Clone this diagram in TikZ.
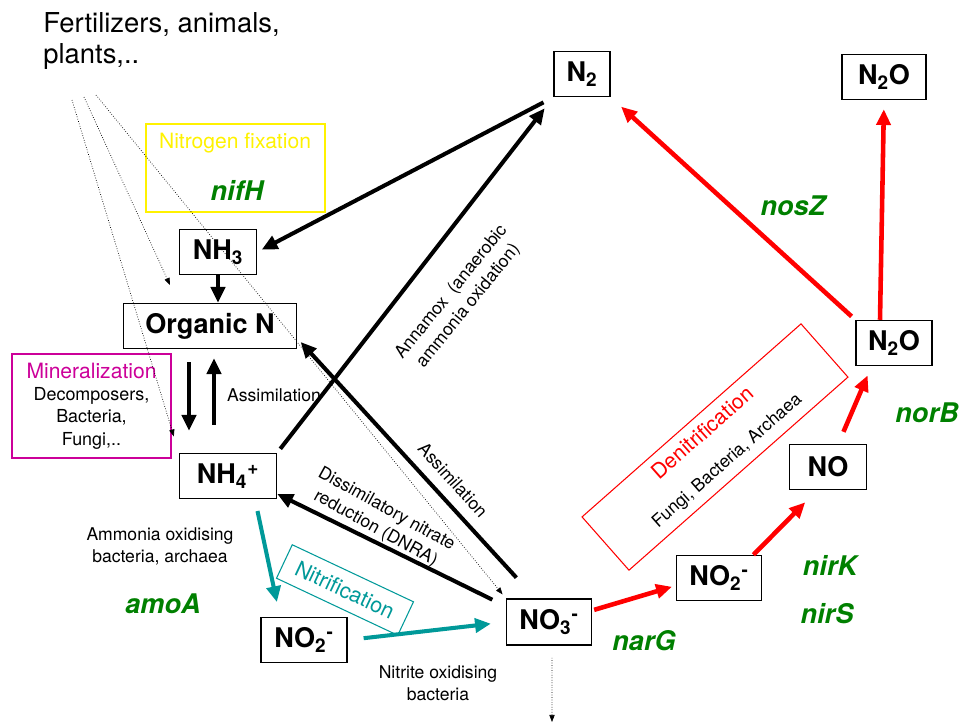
\documentclass[tikz,border=0pt]{standalone}
\usepackage{fontspec}
\setmainfont{TeX Gyre Heros}
\usepackage{tikz}
\usetikzlibrary{arrows.meta}
\definecolor{genegreen}{RGB}{0,128,0}
\definecolor{minmag}{RGB}{204,0,153}
\definecolor{nitteal}{RGB}{0,153,153}

\begin{document}
\begin{tikzpicture}[x=0.02cm, y=-0.02cm,
	species/.style={draw, line width=0.85pt, font=\fontsize{15.4}{18}\selectfont\bfseries, minimum height=0.9cm, inner sep=2pt},
	gene/.style={text=genegreen, font=\fontsize{15.4}{18}\selectfont\bfseries\itshape},
	small/.style={font=\fontsize{10}{12.5}\selectfont, align=center},
	blk/.style={line width=2.3pt, -{Triangle[length=9pt,width=8pt]}},
	redarr/.style={red, line width=2.6pt, -{Triangle[length=9pt,width=8pt]}},
	tealarr/.style={nitteal, line width=2.3pt, -{Triangle[length=9pt,width=8pt]}},
	dots/.style={densely dotted, line width=0.4pt, -{Triangle[length=4pt,width=3pt]}}]
	%\draw[help lines] (0,0) grid (961,725);
	\useasboundingbox (0,0) rectangle (961,725);

	% sources
	\node[anchor=north west, inner sep=0, align=left, font=\fontsize{15.6}{18}\selectfont] (fert) at (43,12) {Fertilizers, animals,\\plants,..};
	\coordinate (src1) at (72,100);
	\coordinate (src2) at (84,97);
	\coordinate (src3) at (96,95);
	\coordinate (orgtip) at (170,285);
	\coordinate (leach) at (552,722);

	% compounds
	\node[species, minimum width=1.54cm] (nh3) at (218,252) {NH\textsubscript{3}};
	\node[species, minimum width=3.46cm] (orgn) at (210,326) {Organic N};
	\node[species, minimum width=1.94cm] (nh4) at (228,476) {NH\textsubscript{4}\textsuperscript{+}};
	\node[species, minimum width=1.12cm] (n2) at (582,74) {N\textsubscript{2}};
	\node[species, minimum width=1.68cm] (n2otop) at (884,77) {N\textsubscript{2}O};
	\node[species, minimum width=1.52cm] (n2o) at (894,343) {N\textsubscript{2}O};
	\node[species, minimum width=1.54cm] (no) at (828,467) {NO};
	\node[species, minimum width=1.7cm] (no2r) at (719,578) {NO\textsubscript{2}\textsuperscript{-}};
	\node[species, minimum width=1.7cm, minimum height=0.92cm] (no3) at (549,622) {NO\textsubscript{3}\textsuperscript{-}};
	\node[species, minimum width=1.72cm] (no2l) at (304,640) {NO\textsubscript{2}\textsuperscript{-}};

	% processes
	\node[draw=yellow, line width=0.9pt, minimum width=3.58cm, minimum height=1.76cm] (fixbox) at (235.5,168) {};
	\node[text=yellow, font=\fontsize{12}{14}\selectfont] (fixlabel) at (235,143) {Nitrogen fixation};
	\node[draw=minmag, line width=0.9pt, minimum width=3.18cm, minimum height=2.08cm, align=center, font=\fontsize{10.2}{12.8}\selectfont] (minbox) at (91.5,406) {{\color{minmag}\fontsize{12}{12.8}\selectfont Mineralization}\\Decomposers,\\Bacteria,\\Fungi,..};
	\node[draw=nitteal, line width=0.6pt, rotate=-25.2, minimum width=2.68cm, minimum height=0.74cm, text=nitteal, font=\fontsize{12.3}{14}\selectfont] (nitbox) at (345,590) {Nitrification};
	\node[draw=red, line width=0.6pt, rotate=41.4, minimum width=5.84cm, minimum height=1.42cm, align=center, font=\fontsize{10}{12}\selectfont] (denbox) at (715,447) {{\color{red}\fontsize{12}{12}\selectfont Denitrification}\\[8pt]Fungi, Bacteria, Archaea};

	% labels
	\node[small] (assimup) at (274,395) {Assimilation};
	\node[small, rotate=51] (anammox) at (460,299) {Annamox~~(anaerobic\\ammonia oxidation)};
	\node[small, rotate=-48] (assimdiag) at (453,480) {Assimilation};
	\node[small, rotate=-29] (dnra) at (381,519) {Dissimilatory nitrate\\reduction (DNRA)};
	\node[small] (aob) at (160,546) {Ammonia oxidising\\bacteria, archaea};
	\node[small] (nob) at (438,683) {Nitrite oxidising\\bacteria};

	% genes
	\node[gene] (nifh) at (237,190) {nifH};
	\node[gene] (amoa) at (163,604) {amoA};
	\node[gene] (narg) at (644,641) {narG};
	\node[gene] (nirk) at (830,565) {nirK};
	\node[gene] (nirs) at (827,614) {nirS};
	\node[gene] (norb) at (927,413) {norB};
	\node[gene] (nosz) at (793,206) {nosZ};

	% inputs and losses
	\draw[dots, shorten >=0.34cm] (src1) -- (nh4.north west);
	\draw[dots] (src2) -- (orgtip);
	\draw[dots, shorten >=0.1cm] (src3) -- (no3.north west);
	\draw[dots, shorten <=0.24cm] ([xshift=0.06cm]no3.south) -- (leach);

	% arrows
	\draw[blk] (nh3.south) -- (nh3.south |- orgn.north);
	\draw[blk, shorten <=0.26cm, shorten >=0.44cm] ([xshift=-0.42cm]orgn.south) -- ([xshift=-0.42cm]orgn.south |- nh4.north);
	\draw[blk, shorten <=0.56cm, shorten >=0.18cm] ([xshift=0.08cm]orgn.south |- nh4.north) -- ([xshift=0.08cm]orgn.south);
	\draw[blk, shorten <=0.1cm, shorten >=0.28cm] (nh4.north east) -- (n2.south west);
	\draw[blk, shorten <=0.22cm, shorten >=0.1cm] (n2.south west) -- (nh3.east);
	\draw[blk, shorten <=0.56cm, shorten >=0.1cm] (no3.120) -- (orgn.-8);
	\draw[blk, shorten <=0.3cm] (no3.160) -- (nh4.-20);
	\draw[tealarr, shorten <=0.24cm, shorten >=0.3cm] ([xshift=0.54cm]nh4.south) -- ([xshift=-0.48cm]no2l.north);
	\draw[tealarr, shorten <=0.32cm, shorten >=0.3cm] (no2l.east) -- (no3.west);
	\draw[redarr, shorten <=0.04cm, shorten >=0.08cm] (no3.15) -- (no2r.190);
	\draw[redarr, shorten >=0.34cm] (no2r.34) -- (no.245);
	\draw[redarr, shorten <=0.26cm, shorten >=0.2cm] (no.66) -- (n2o.226);
	\draw[redarr, shorten <=0.1cm, shorten >=0.28cm] (n2o.north west) -- (n2.south east);
	\draw[redarr, shorten >=0.18cm] ([xshift=-0.28cm]n2o.north) -- (n2otop.south);
\end{tikzpicture}
\end{document}
